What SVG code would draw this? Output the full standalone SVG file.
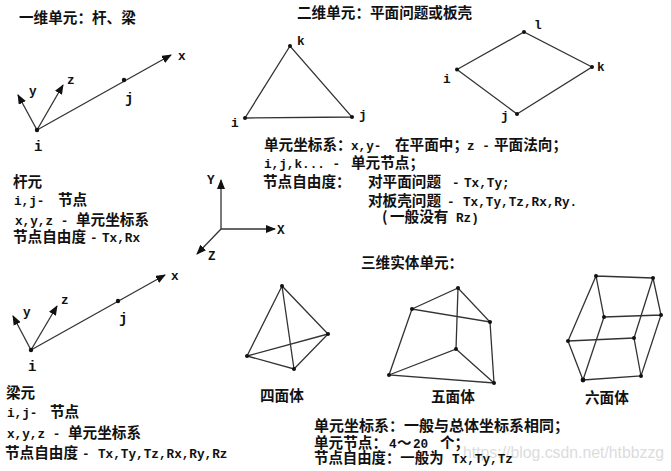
<svg xmlns="http://www.w3.org/2000/svg" width="671" height="471" viewBox="0 0 671 471">
<style>
text{fill:#111;font-family:"Noto Sans CJK SC","Noto Sans CJK JP",sans-serif;font-weight:700;font-size:14.6px}
.m{font-family:"Liberation Mono",monospace;font-weight:700;font-size:12.7px}
.l{font-family:"Liberation Mono",monospace;font-weight:700;font-size:14px}
.wm{font-family:"Liberation Sans",sans-serif;font-weight:400;font-size:15.8px;fill:#dcdcdc}
line,polyline{stroke:#333;stroke-width:1.3;fill:none}
.a{marker-end:url(#ah)}
circle{fill:#111}
</style>
<defs><marker id="ah" markerUnits="userSpaceOnUse" markerWidth="10" markerHeight="8" refX="9" refY="4" orient="auto"><path d="M0,0L10,4L0,8Z" fill="#111"/></marker></defs>
<rect width="671" height="471" fill="#fff"/>
<text class="wm" x="463" y="458">https://blog.csdn.net/htbbzzg</text>
<g id="connectors">
<line class="a" x1="37" y1="130" x2="171" y2="55"/><line class="a" x1="37" y1="130" x2="18" y2="95"/><line class="a" x1="37" y1="130" x2="63" y2="85"/>
<line class="a" x1="221" y1="229" x2="221" y2="180"/><line class="a" x1="221" y1="229" x2="275" y2="229"/><line class="a" x1="221" y1="229" x2="197" y2="254"/>
<line class="a" x1="31" y1="350" x2="165" y2="275"/><line class="a" x1="31" y1="350" x2="13" y2="316"/><line class="a" x1="31" y1="350" x2="57" y2="306"/>
</g>
<g id="bar-element">
<circle cx="37" cy="130" r="2.2"/><circle cx="124" cy="80" r="2.2"/>
<text class="m" x="178" y="60">x</text><text class="m" x="29" y="95">y</text><text class="m" x="67" y="84">z</text><text class="l" x="125" y="103">j</text><text class="l" x="34" y="151">i</text>
<text x="19" y="23">一维单元&#xFF1A;杆、梁</text>
<text x="13" y="187">杆元</text>
<text x="14" y="205"><tspan class="m">i,j-</tspan><tspan x="58">节点</tspan></text>
<text x="15" y="225"><tspan class="m">x,y,z -</tspan><tspan x="76">单元坐标系</tspan></text>
<text x="13" y="242">节点自由度<tspan class="m" x="90">-</tspan><tspan class="m" x="102">Tx,Rx</tspan></text>
</g>
<g id="global-axes"><text class="m" x="207" y="184">Y</text><text class="m" x="277" y="234">X</text><text class="m" x="208" y="260">Z</text></g>
<g id="plane-title"><text x="297" y="18">二维单元&#xFF1A;平面问题或板壳</text></g>
<g id="triangle">
<polyline points="245,118 352,117 290,46 245,118"/>
<circle cx="245" cy="118" r="2"/><circle cx="352" cy="117" r="2"/><circle cx="290" cy="46" r="2"/>
<text class="m" x="231" y="127">i</text><text class="m" x="359" y="119">j</text><text class="m" x="297" y="45">k</text>
</g>
<g id="quad">
<polyline points="457,69.5 524,32 592,67 517,114 457,69.5"/>
<circle cx="457" cy="69.5" r="2"/><circle cx="524" cy="32" r="2"/><circle cx="592" cy="67" r="2"/><circle cx="517" cy="114" r="2"/>
<text class="m" x="443" y="83">i</text><text class="m" x="534" y="29">l</text><text class="m" x="597" y="71">k</text><text class="m" x="501" y="120">j</text>
</g>
<g id="plane-text">
<text x="264" y="150">单元坐标系&#xFF1A;<tspan class="m" x="351">x,y-</tspan><tspan x="395">在平面中&#xFF1B;</tspan><tspan class="m" x="467">z -</tspan><tspan x="494">平面法向&#xFF1B;</tspan></text>
<text x="264" y="168"><tspan class="m">i,j,k... -</tspan><tspan x="351">单元节点&#xFF1B;</tspan></text>
<text x="263" y="187">节点自由度&#xFF1A;</text>
<text x="368" y="187">对平面问题<tspan class="m" x="452">-</tspan><tspan class="m" x="464">Tx,Ty;</tspan></text>
<text x="368" y="206">对板壳问题<tspan class="m" x="447">-</tspan><tspan class="m" x="463">Tx,Ty,Tz,Rx,Ry.</tspan></text>
<text x="382" y="222">(<tspan x="390">一般没有</tspan><tspan class="m" x="456">Rz)</tspan></text>
</g>
<g id="beam-element">
<circle cx="31" cy="350" r="2.2"/><circle cx="118" cy="301" r="2.2"/>
<text class="m" x="171" y="280">x</text><text class="m" x="23" y="316">y</text><text class="m" x="61" y="304">z</text><text class="l" x="119" y="323">j</text><text class="l" x="28" y="371">i</text>
<text x="6" y="398">梁元</text>
<text x="7" y="417"><tspan class="m">i,j-</tspan><tspan x="50">节点</tspan></text>
<text x="7" y="438"><tspan class="m">x,y,z -</tspan><tspan x="68">单元坐标系</tspan></text>
<text x="5" y="458">节点自由度<tspan class="m" x="82">-</tspan><tspan class="m" x="98">Tx,Ty,Tz,Rx,Ry,Rz</tspan></text>
</g>
<g id="solid-title"><text x="361" y="268">三维实体单元&#xFF1A;</text></g>
<g id="tetrahedron">
<polyline points="282,286 247,356 294,369 328,334 282,286 294,369"/><line x1="247" y1="356" x2="328" y2="334"/>
<circle cx="282" cy="286" r="2"/><circle cx="328" cy="334" r="2"/><circle cx="247" cy="356" r="2"/><circle cx="294" cy="369" r="2"/>
<text x="260" y="401">四面体</text>
</g>
<g id="pentahedron">
<polyline points="412,309 458,288 490,322 412,309 389,375 494,383 490,322"/><polyline points="458,288 456,349 389,375"/><line x1="456" y1="349" x2="494" y2="383"/>
<circle cx="458" cy="288" r="2"/><circle cx="412" cy="309" r="2"/><circle cx="490" cy="322" r="2"/><circle cx="456" cy="349" r="2"/><circle cx="389" cy="375" r="2"/><circle cx="494" cy="383" r="2"/>
<text x="431" y="402">五面体</text>
</g>
<g id="hexahedron">
<polyline points="596,276 653,278 661,315 641,376 583,380 568,341 596,276 604,317 661,315"/><polyline points="653,278 634,338 641,376"/><line x1="568" y1="341" x2="634" y2="338"/><line x1="604" y1="317" x2="583" y2="380"/>
<circle cx="596" cy="276" r="2"/><circle cx="653" cy="278" r="2"/><circle cx="604" cy="317" r="2"/><circle cx="661" cy="315" r="2"/><circle cx="568" cy="341" r="2"/><circle cx="634" cy="338" r="2"/><circle cx="583" cy="380" r="2.4"/><circle cx="641" cy="376" r="2"/>
<text x="585" y="403">六面体</text>
</g>
<g id="solid-text">
<text x="314" y="431" style="font-size:15px">单元坐标系&#xFF1A;一般与总体坐标系相同&#xFF1B;</text>
<text x="314" y="448">单元节点&#xFF1A;<tspan class="m" x="389">4</tspan><tspan x="397">&#xFF5E;</tspan><tspan class="m" x="413">20</tspan><tspan x="440">个&#xFF1B;</tspan></text>
<text x="314" y="463" style="font-size:14.4px">节点自由度&#xFF1A;一般为<tspan class="m" x="452">Tx,Ty,Tz</tspan></text>
</g>
</svg>
